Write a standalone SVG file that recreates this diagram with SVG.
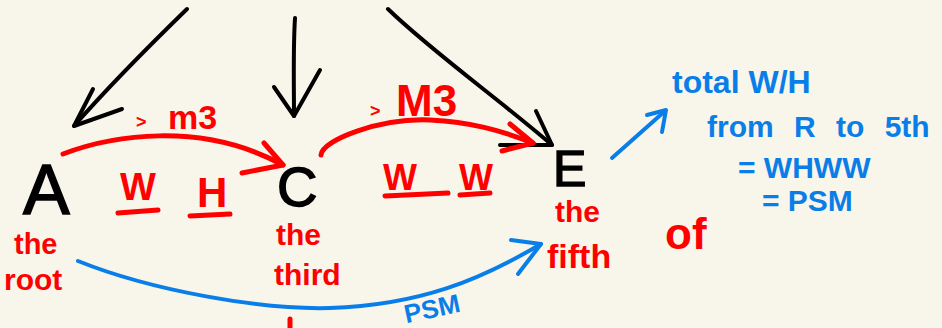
<svg xmlns="http://www.w3.org/2000/svg" width="942" height="328" viewBox="0 0 942 328">
<style>
.bk{fill:none;stroke:#000;stroke-width:4;stroke-linecap:round;stroke-linejoin:round}
.rd{fill:none;stroke:#f00;stroke-width:5;stroke-linecap:round;stroke-linejoin:round}
.bl{fill:none;stroke:#0a7ee8;stroke-width:4;stroke-linecap:round;stroke-linejoin:round}
.node{font-family:"Liberation Sans",Arial,sans-serif;fill:#000;stroke:#000;stroke-width:1.5}
.rt{font-family:"Liberation Sans",Arial,sans-serif;font-weight:bold;fill:#f00}
.bt{font-family:"Liberation Sans",Arial,sans-serif;font-weight:bold;fill:#0a7ee8}
</style>
<rect width="942" height="328" fill="#f8f6ea"/>
<g id="connectors">
  <path class="bk" d="M187,9 C150,45 110,85 74,126"/>
  <path class="bk" d="M93,89 L74,126 L122,109"/>
  <path class="bk" d="M295,18 C293,50 294,85 294,116"/>
  <path class="bk" d="M274,87 L294,116 L320,70"/>
  <path class="bk" d="M388,9 C430,50 500,100 552,145"/>
  <path class="bk" d="M536,111 L552,145 L500,145"/>
  <path class="rd" d="M63,154 C110,136 200,120 283,165"/>
  <path class="rd" d="M264,143 L283,165 L242,173"/>
  <path class="rd" d="M321,155 C322,140 380,118 430,120 C470,122 500,130 533,143"/>
  <path class="rd" d="M510,124 L533,143 L502,151"/>
  <path class="bl" d="M78,261 C150,290 260,310 330,308 C420,305 480,280 541,244"/>
  <path class="bl" d="M511,240 L541,244 L518,274"/>
  <path class="bl" d="M612,158 L665,111"/>
  <path class="bl" d="M647,115 L666,110 L662,132"/>
  <path class="rd" d="M290,319 L290,328"/>
</g>
<g id="node-A">
  <text class="node" x="23" y="214" font-size="70">A</text>
  <text class="rt" x="14" y="254" font-size="29">the</text>
  <text class="rt" x="4" y="290" font-size="30">root</text>
</g>
<g id="node-C">
  <text class="node" x="277" y="206" font-size="56">C</text>
  <text class="rt" x="276" y="245" font-size="30">the</text>
  <text class="rt" x="274" y="285" font-size="30">third</text>
</g>
<g id="node-E">
  <text class="node" x="553" y="186" font-size="50">E</text>
  <text class="rt" x="555" y="222" font-size="30">the</text>
  <text class="rt" x="547" y="268" font-size="34">fifth</text>
</g>
<g id="labels-AC">
  <text class="rt" x="136" y="128" font-size="18">&gt;</text>
  <text class="rt" x="168" y="129" font-size="34">m3</text>
  <text class="rt" x="120" y="200" font-size="38">W</text>
  <path class="rd" d="M118,213 L158,210"/>
  <text class="rt" x="197" y="207" font-size="42">H</text>
  <path class="rd" d="M190,216 L230,214"/>
</g>
<g id="labels-CE">
  <text class="rt" x="370" y="117" font-size="18">&gt;</text>
  <text class="rt" x="396" y="116" font-size="44">M3</text>
  <text class="rt" x="383" y="190" font-size="36">W</text>
  <path class="rd" d="M385,196 L448,193"/>
  <text class="rt" x="459" y="190" font-size="36">W</text>
  <path class="rd" d="M460,195 L490,193"/>
</g>
<g id="label-of">
  <text class="rt" x="665" y="249" font-size="44">of</text>
</g>
<g id="label-psm">
  <text class="bt" x="403" y="318" font-size="26" transform="rotate(-12 430 305)">PSM</text>
</g>
<g id="note">
  <text class="bt" x="672" y="93" font-size="32">total W/H</text>
  <text class="bt" x="707" y="137" font-size="30" word-spacing="12">from R to 5th</text>
  <text class="bt" x="738" y="178" font-size="30">= WHWW</text>
  <text class="bt" x="762" y="211" font-size="30">= PSM</text>
</g>
</svg>
